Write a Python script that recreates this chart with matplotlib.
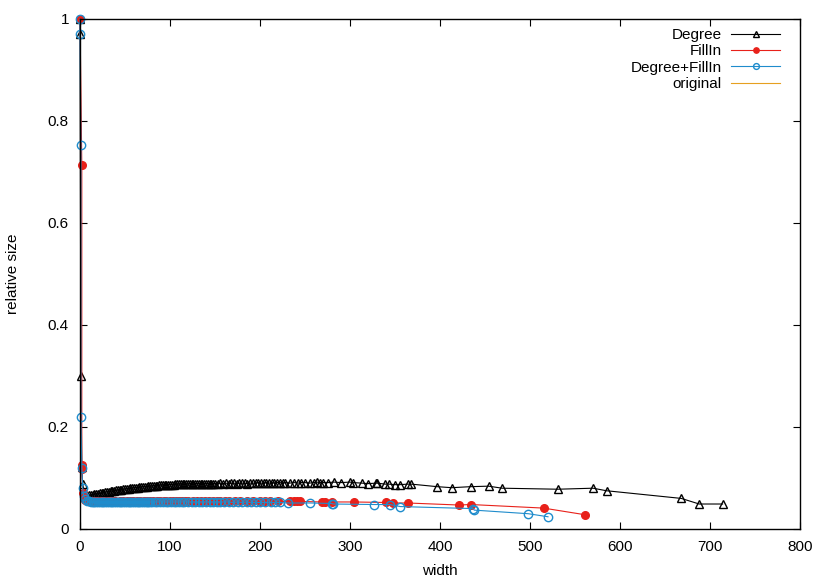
import matplotlib
matplotlib.use("Agg")
import matplotlib.pyplot as plt

plt.rcParams['font.family'] = ['Liberation Sans', 'DejaVu Sans']

# Degree
deg_x = [0, 0, 1, 2, 3, 5,
         8, 10, 12, 14, 16, 18, 20, 22, 24, 26, 28, 30, 32, 34, 36, 38, 40,
         42, 44, 46, 48, 50, 52, 54, 56, 58, 60, 62, 64, 66, 68, 70, 72, 74,
         76, 78, 80, 82, 84, 86, 88, 90, 92, 94, 96, 98, 100, 102, 104, 106,
         108, 110, 112, 114, 116, 118, 120, 122, 124, 126, 128, 130, 132, 134,
         136, 138, 140, 142, 144, 146, 148, 150,
         153, 156, 159, 162, 165, 168, 171, 174, 177, 180, 183, 186, 189, 192,
         195, 198, 201, 204, 207, 210, 213, 216, 219, 222, 225, 228,
         233, 238, 242, 246, 250, 255, 260, 263, 267, 270, 276, 282, 290, 300,
         303, 313, 320, 329, 330, 339, 343, 350, 356, 364, 368, 397, 413, 434,
         454, 469, 531, 570, 585, 668, 688, 714]
deg_y = [1.0, 0.97, 0.30, 0.122, 0.088, 0.070,
         0.065, 0.066, 0.066, 0.067, 0.068, 0.069, 0.069, 0.070, 0.071, 0.071,
         0.072, 0.073, 0.073, 0.074, 0.075, 0.075, 0.076, 0.076, 0.077, 0.077,
         0.078, 0.078, 0.079, 0.079, 0.080, 0.080, 0.081, 0.081, 0.081, 0.082,
         0.082, 0.083, 0.083, 0.083, 0.084, 0.084, 0.084, 0.085, 0.085, 0.085,
         0.086, 0.086, 0.086, 0.086, 0.087, 0.087, 0.087, 0.087, 0.087, 0.088,
         0.088, 0.088, 0.088, 0.088, 0.088, 0.088, 0.088, 0.089, 0.089, 0.088,
         0.089, 0.089, 0.089, 0.089, 0.089, 0.089, 0.089, 0.089, 0.089, 0.089,
         0.089, 0.089,
         0.089, 0.090, 0.089, 0.090, 0.089, 0.090, 0.090, 0.089, 0.090, 0.090,
         0.090, 0.089, 0.090, 0.090, 0.090, 0.091, 0.090, 0.090, 0.091, 0.090,
         0.091, 0.090, 0.091, 0.091, 0.090, 0.091,
         0.090, 0.091, 0.090, 0.091, 0.091, 0.090, 0.091, 0.092, 0.091, 0.091,
         0.091, 0.092, 0.091, 0.092, 0.091, 0.090, 0.089, 0.090, 0.090, 0.088,
         0.088, 0.087, 0.087, 0.088, 0.088, 0.083, 0.081, 0.083, 0.084, 0.080,
         0.078, 0.080, 0.075, 0.060, 0.049, 0.049]

# FillIn
fill_x = [0, 2, 2, 2, 3, 4, 6, 9, 12, 15, 19, 23, 27, 31, 35, 39, 44, 48, 52,
          56, 59, 63, 67, 71, 74, 78, 81, 85, 89, 93, 96, 100, 103, 107, 110,
          113, 117, 120, 126, 130, 134, 139, 143, 148, 152, 156, 161, 165, 172,
          178, 185, 192, 200, 205, 211, 220, 233, 238, 241, 244, 269, 272, 280,
          304, 340, 348, 364, 421, 434, 515, 561]
fill_y = [1.0, 0.713, 0.125, 0.118, 0.070, 0.060, 0.056, 0.055, 0.054, 0.054,
          0.054, 0.054, 0.054, 0.054, 0.054, 0.054, 0.054, 0.054, 0.054, 0.054,
          0.054, 0.054, 0.054, 0.054, 0.054, 0.054, 0.054, 0.054, 0.054, 0.054,
          0.054, 0.054, 0.054, 0.054, 0.054, 0.054, 0.054, 0.054, 0.054, 0.054,
          0.054, 0.054, 0.054, 0.054, 0.054, 0.054, 0.054, 0.054, 0.054, 0.054,
          0.054, 0.054, 0.054, 0.054, 0.054, 0.054, 0.054, 0.054, 0.054, 0.054,
          0.053, 0.053, 0.053, 0.053, 0.052, 0.051, 0.051, 0.047, 0.048, 0.041,
          0.028]

# Degree+FillIn
both_x = [0, 0, 1, 1, 2, 3, 4, 6, 8,
          10, 12, 14, 16, 18, 20, 22, 24, 26, 28, 30, 32, 34, 36, 38, 40, 42,
          44, 46, 48, 50, 52, 54, 56, 58, 60, 62, 64, 66, 68, 70, 72, 74, 76,
          78, 80, 83, 86, 89, 92, 95, 98, 101, 104, 107, 110, 113, 116, 120,
          124, 128, 132, 136, 140, 144, 148, 152, 156, 160, 165, 170, 175, 180,
          185, 190, 195, 200, 206, 212, 217, 222, 231, 256, 280, 281, 327, 344,
          356, 437, 438, 498, 520]
both_y = [1.0, 0.97, 0.753, 0.22, 0.12, 0.080, 0.065, 0.058, 0.055,
          0.054, 0.053, 0.053, 0.053, 0.053, 0.053, 0.053, 0.053, 0.053, 0.053,
          0.053, 0.053, 0.053, 0.053, 0.053, 0.053, 0.053, 0.053, 0.053, 0.053,
          0.053, 0.053, 0.053, 0.053, 0.053, 0.053, 0.053, 0.053, 0.053, 0.053,
          0.053, 0.053, 0.053, 0.053, 0.053, 0.053, 0.053, 0.053, 0.053, 0.053,
          0.053, 0.053, 0.053, 0.053, 0.053, 0.053, 0.053, 0.053, 0.053, 0.053,
          0.053, 0.053, 0.053, 0.053, 0.053, 0.053, 0.053, 0.053, 0.053, 0.053,
          0.052, 0.053, 0.052, 0.053, 0.052, 0.052, 0.052, 0.052, 0.052, 0.052,
          0.052, 0.051, 0.051, 0.050, 0.049, 0.048, 0.048, 0.044, 0.040, 0.037,
          0.030, 0.024]

# original
orig_x = [0, 0]
orig_y = [1.0, 1.0]

x_ticks = [0, 100, 200, 300, 400, 500, 600, 700, 800]
y_ticks = [0, 0.2, 0.4, 0.6, 0.8, 1]
y_tick_labels = ["0", "0.2", "0.4", "0.6", "0.8", "1"]


def main():
    fig = plt.figure(figsize=(8.3, 5.81), dpi=100)
    ax = fig.add_axes([80 / 830, 52 / 581, 720 / 830, 510 / 581])

    ax.plot(deg_x, deg_y, color='black', lw=0.8, marker='^', ms=6,
            mfc='none', mec='black', mew=1.0, label="Degree", clip_on=False)
    ax.plot(fill_x, fill_y, color='#e8211a', lw=0.8, marker='o', ms=5.5,
            mfc='#e8211a', mec='#e8211a', label="FillIn", clip_on=False)
    ax.plot(both_x, both_y, color='#1f8ccc', lw=0.8, marker='o', ms=6,
            mfc='none', mec='#1f8ccc', mew=1.0, label="Degree+FillIn",
            clip_on=False)
    ax.plot(orig_x, orig_y, color='#e6a020', lw=0.8, label="original")

    ax.set_xlim(0, 800)
    ax.set_ylim(0, 1)
    ax.set_xticks(x_ticks)
    ax.set_yticks(y_ticks)
    ax.set_yticklabels(y_tick_labels)
    ax.tick_params(direction='in', top=True, right=True, labelsize=11,
                   length=5, width=0.8, pad=8)
    for s in ax.spines.values():
        s.set_linewidth(1.0)

    ax.set_xlabel("width", fontsize=11, labelpad=7)
    ax.set_ylabel("relative size", fontsize=11, labelpad=20)

    ax.legend(loc='upper right', bbox_to_anchor=(0.985, 1.0), frameon=False,
              markerfirst=False, alignment='right', fontsize=11,
              handlelength=3.2, handletextpad=0.6, labelspacing=0.15,
              borderaxespad=0.2, markerscale=0.7)

    fig.savefig("out.png", dpi=100)


if __name__ == '__main__':
    main()
